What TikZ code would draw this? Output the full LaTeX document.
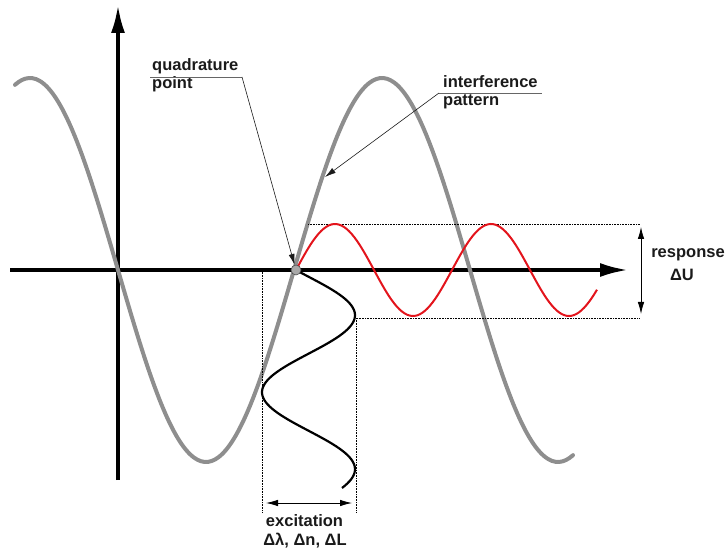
\documentclass[tikz,border=0pt]{standalone}
\usepackage{fontspec}
\setmainfont{Liberation Sans}
\usetikzlibrary{arrows.meta,positioning}
\definecolor{fringe}{HTML}{8E8E8E}
\definecolor{signal}{HTML}{E3141C}
\definecolor{dotgray}{HTML}{A8A8A8}
\definecolor{ink}{HTML}{1A1A1A}

\begin{document}
\begin{tikzpicture}[x=1pt,y=-1pt,
    lbl/.style={font=\fontsize{16.5}{18}\selectfont\bfseries, text=ink, inner sep=0pt, anchor=base west},
    guide/.style={densely dotted, line width=0.6pt},
    leader/.style={line width=0.6pt, ink, -{Latex[length=11pt,width=6pt]}},
    span/.style={line width=0.8pt, {Latex[length=12pt,width=6.5pt]}-{Latex[length=12pt,width=6.5pt]}},
    axis/.style={line width=3.5pt, -{Latex[length=28pt,width=14pt]}}]

    \useasboundingbox (0,0) rectangle (726,548);

    % Axes
    \coordinate (xa) at (10,270);
    \coordinate (xb) at (628,270);
    \coordinate (ya) at (118,480);
    \coordinate (yb) at (118,5);
    \draw[axis] (xa) -- (xb);
    \draw[axis] (ya) -- (yb);

    % Interference pattern (gray)
    \draw[fringe, line width=4pt, line cap=round]
        plot[domain=15:573, samples=160, smooth] (\x, {270+192*sin((\x-118)/352*360)});

    % Guide lines
    \draw[guide] (308,224) -- (640,224);
    \draw[guide] (357,318) -- (640,318);
    \draw[guide] (262,270) -- (262,512);
    \draw[guide] (356,318) -- (356,512);

    % Response (red)
    \draw[signal, line width=2pt]
        plot[domain=296:597, samples=120, smooth] (\x, {270-46*sin((\x-296)/156*360)});

    % Excitation (black, vertical)
    \draw[line width=2.2pt]
        plot[domain=270:488, samples=100, smooth, variable=\t] ({308.5+46.5*sin(-15.7+(\t-270)/154*360)}, \t);

    % Quadrature point
    \node[circle, fill=dotgray, draw=black!70, line width=0.6pt, minimum size=10pt, inner sep=0pt] (qp) at (296,270) {};

    % Span arrows
    \draw[span] (641,227) -- (641,314);
    \draw[span] (266,503) -- (352,503);

    % Labels
    \node[lbl] (quad) at (152,71) {quadrature};
    \node[lbl] (point) at (152,89) {point};
    \node[lbl] (interf) at (443,88) {interference};
    \node[lbl] (patt) at (443,106) {pattern};
    \node[lbl, anchor=base] (resp) at (688,258) {response};
    \node[lbl, anchor=base] (du) at (682,281) {ΔU};
    \node[lbl, anchor=base] (exc) at (304.5,526) {excitation};
    \node[lbl, anchor=base] (dvar) at (305,545) {Δλ, Δn, ΔL};

    % Leaders
    \coordinate (qend) at (242,77);
    \coordinate (iend) at (439,93);
    \coordinate (ihit) at (325,177);
    \draw[line width=0.8pt, black!60] (150,77) -- (qend);
    \draw[line width=0.8pt, black!60] (iend) -- (542,93);
    \draw[leader] (qend) -- (qp);
    \draw[leader] (iend) -- (ihit);

\end{tikzpicture}
\end{document}
